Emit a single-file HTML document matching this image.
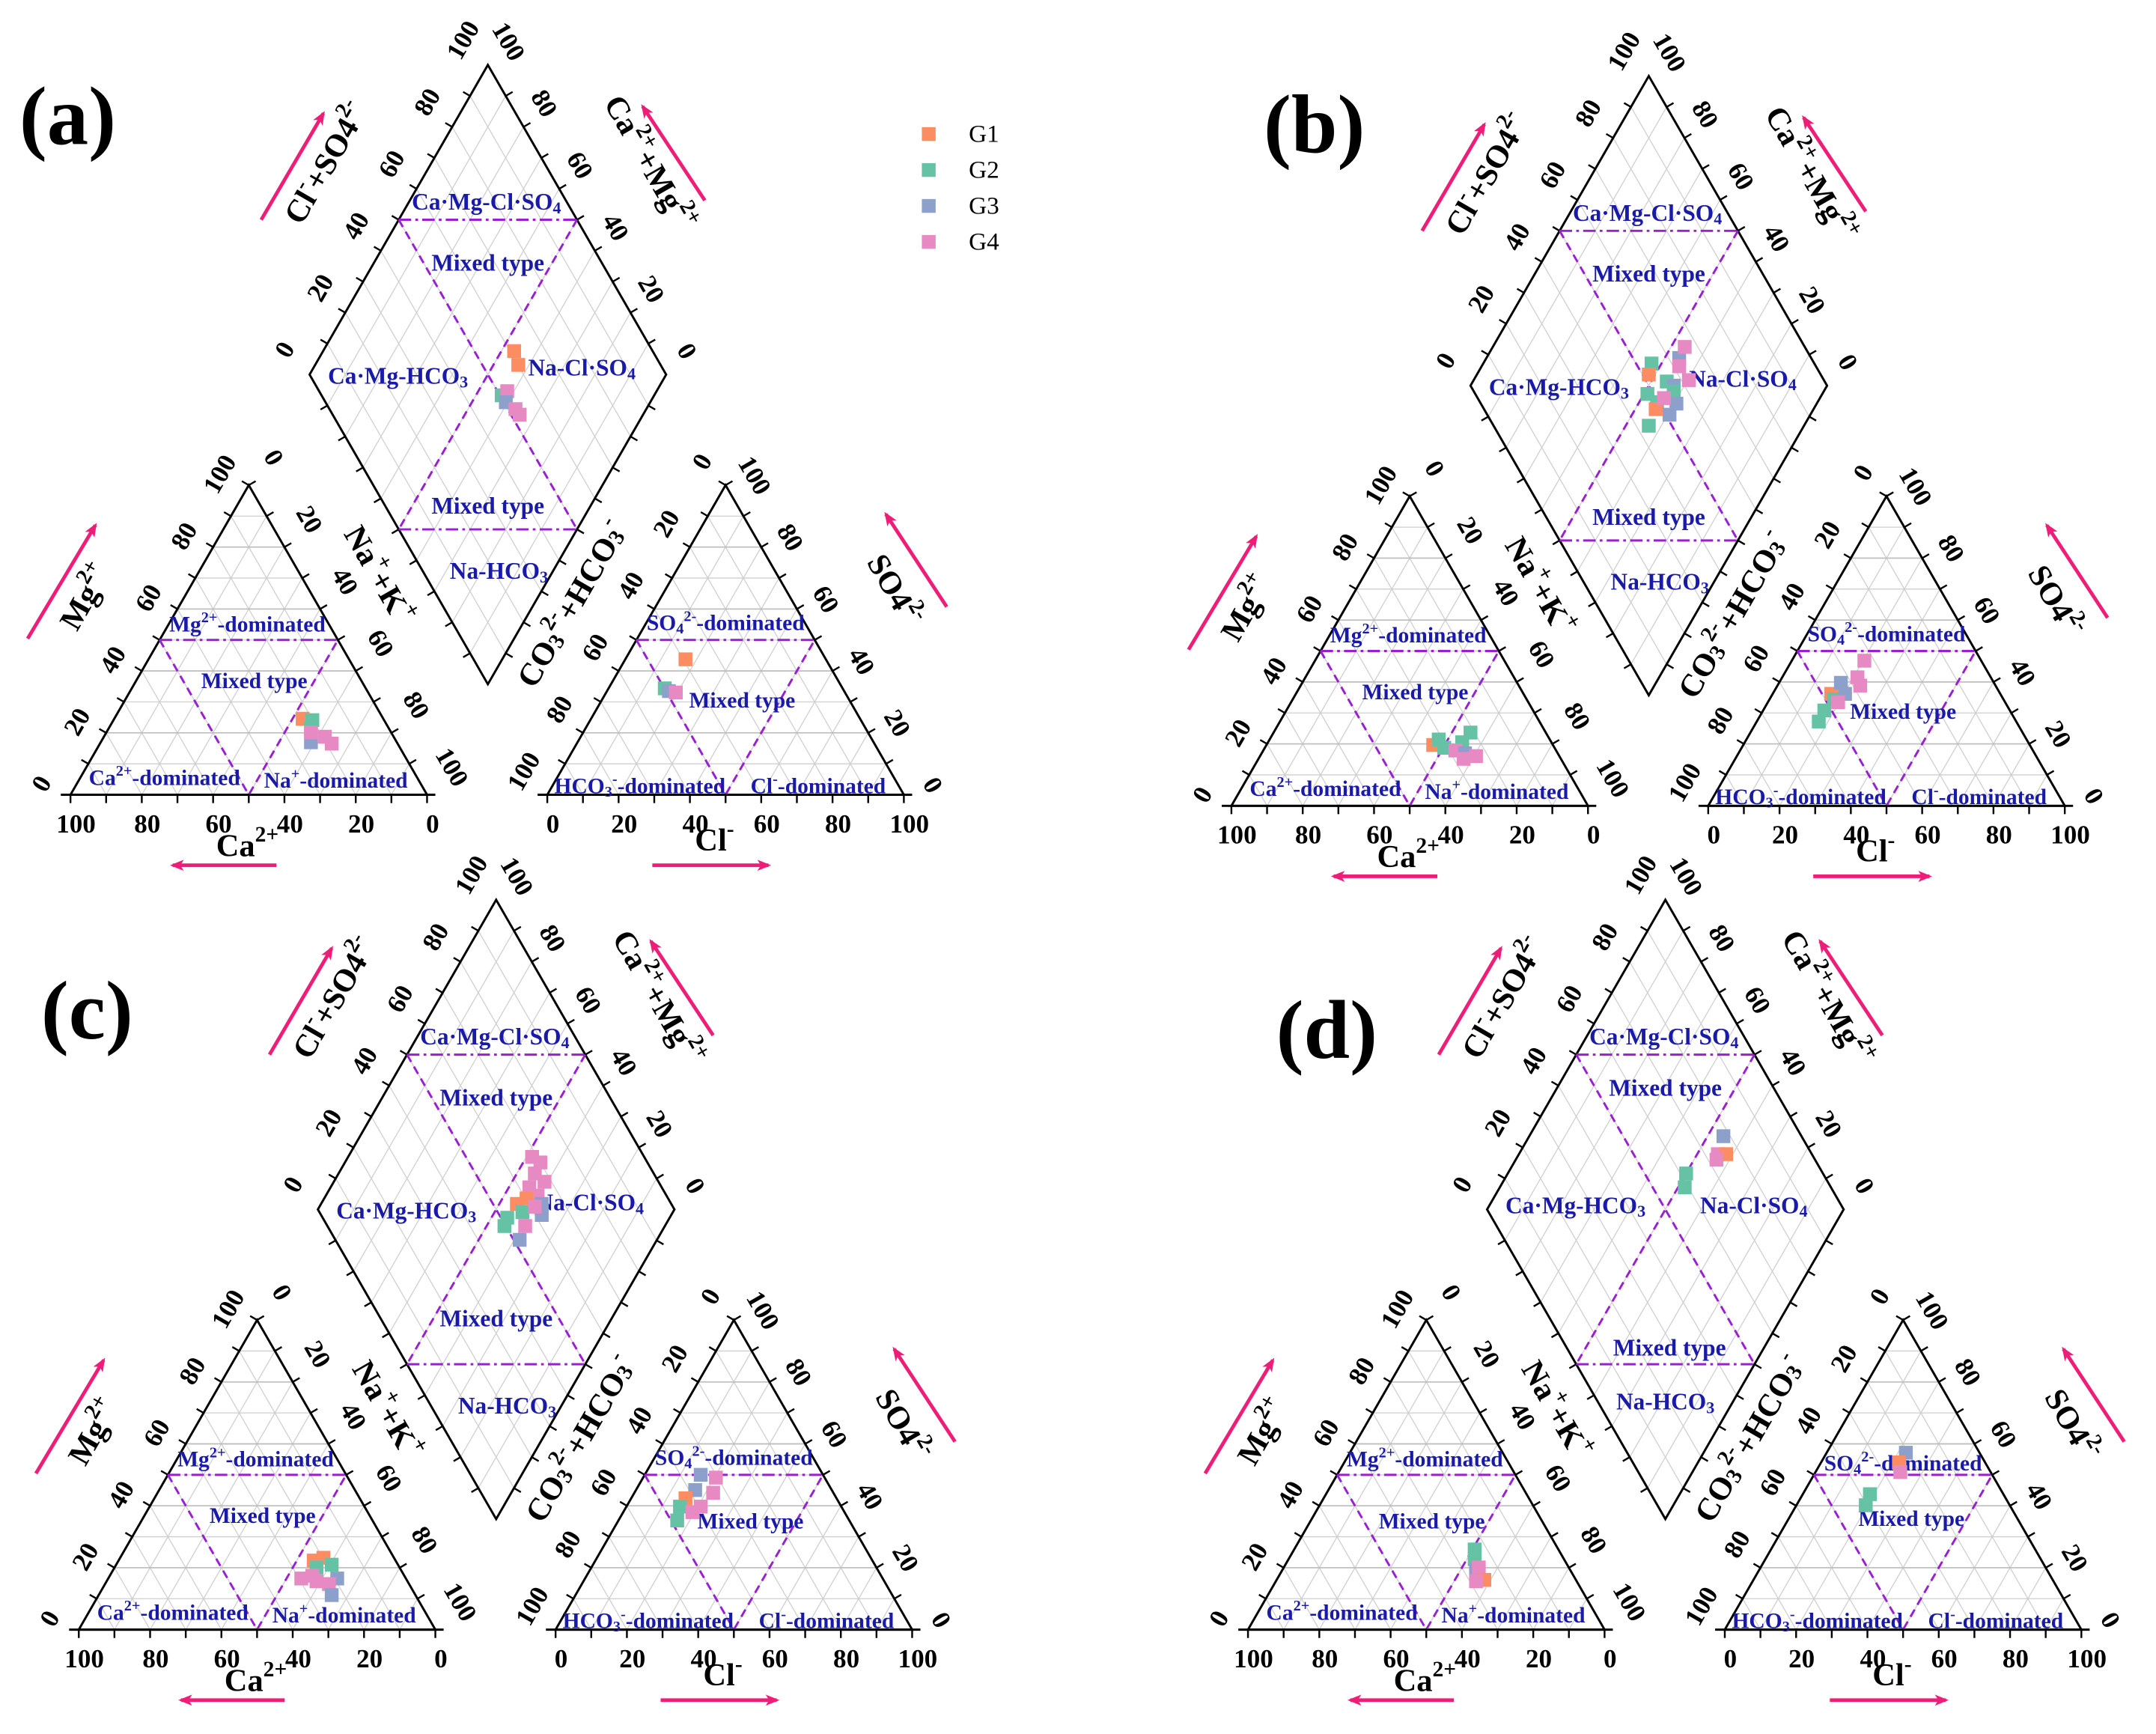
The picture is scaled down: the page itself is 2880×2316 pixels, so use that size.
<!DOCTYPE html>
<html><head><meta charset="utf-8"><style>
html,body{margin:0;padding:0;background:#fff}
svg{display:block}
.t{font-family:"Liberation Serif",serif;font-weight:bold;font-size:19px;fill:#000;text-anchor:middle;dominant-baseline:central}
.r{font-family:"Liberation Serif",serif;font-weight:bold;font-size:16px;fill:#1a1aa8;text-anchor:middle;dominant-baseline:central}
.rd{font-size:17px}
.ti{font-family:"Liberation Serif",serif;font-weight:bold;font-size:23px;fill:#000;text-anchor:middle;dominant-baseline:central}
.lt{font-family:"Liberation Serif",serif;font-weight:bold;font-size:60px;fill:#000;text-anchor:middle;dominant-baseline:central}
.lg{font-family:"Liberation Serif",serif;font-size:18px;fill:#000;dominant-baseline:central}
.grid{stroke:#cfcfcf;stroke-width:0.7;fill:none}
.ol{stroke:#000;stroke-width:1.6;fill:none}
.tk{stroke:#000;stroke-width:1.3;fill:none}
.dd{stroke:#9a1fd0;stroke-width:1.6;fill:none;stroke-dasharray:9,3,2,3}
.ds{stroke:#9a1fd0;stroke-width:1.6;fill:none;stroke-dasharray:6,4}
.ar{stroke:#ee1e78;stroke-width:2.6;fill:none;marker-end:url(#ah)}
.g1{fill:#fc8d62}.g2{fill:#66c2a5}.g3{fill:#8da0cb}.g4{fill:#e78ac3}
</style></head><body>
<svg width="2880" height="2316" viewBox="0 0 1560 1254.5" xmlns="http://www.w3.org/2000/svg">
<defs>
<marker id="ah" markerWidth="10" markerHeight="8" refX="8" refY="4" orient="auto" markerUnits="userSpaceOnUse" viewBox="0 0 10 8"><path d="M0,0 L10,4 L0,8 L2.5,4 Z" fill="#ee1e78"/></marker>
<clipPath id="tc"><polygon points="0,0 258,0 129,-224"/></clipPath>
<clipPath id="dc"><polygon points="0,0 129,-224 258,0 129,224"/></clipPath>
<g id="tri">
<path class="grid" clip-path="url(#tc)" d="M12.9,-22.4H245.1M25.8,-44.8H232.2M38.7,-67.2H219.3M51.6,-89.6H206.4M64.5,-112H193.5M77.4,-134.4H180.6M90.3,-156.8H167.7M103.2,-179.2H154.8M116.1,-201.6H141.9
M25.8,0l129,-224M51.6,0l129,-224M77.4,0l129,-224M103.2,0l129,-224M129,0l129,-224M154.8,0l129,-224M180.6,0l129,-224M206.4,0l129,-224M232.2,0l129,-224
M25.8,0l-129,-224M51.6,0l-129,-224M77.4,0l-129,-224M103.2,0l-129,-224M129,0l-129,-224M154.8,0l-129,-224M180.6,0l-129,-224M206.4,0l-129,-224M232.2,0l-129,-224"/>
<path stroke="#bdbdbd" stroke-width="0.9" fill="none" d="M25.8,-44.8H232.2M51.6,-89.6H206.4M77.4,-134.4H180.6M103.2,-179.2H154.8"/>
<polygon class="ol" points="0,0 258,0 129,-224"/>
<path class="ol" d="M-7,0H264"/>
<path class="tk" d="M0,0v6M25.8,0v6M51.6,0v6M77.4,0v6M103.2,0v6M129,0v6M154.8,0v6M180.6,0v6M206.4,0v6M232.2,0v6M258,0v6
M12.9,-22.4l-5,-2.9M25.8,-44.8l-5,-2.9M38.7,-67.2l-5,-2.9M51.6,-89.6l-5,-2.9M64.5,-112l-5,-2.9M77.4,-134.4l-5,-2.9M90.3,-156.8l-5,-2.9M103.2,-179.2l-5,-2.9M116.1,-201.6l-5,-2.9M129,-224l-5,-2.9
M245.1,-22.4l5,-2.9M232.2,-44.8l5,-2.9M219.3,-67.2l5,-2.9M206.4,-89.6l5,-2.9M193.5,-112l5,-2.9M180.6,-134.4l5,-2.9M167.7,-156.8l5,-2.9M154.8,-179.2l5,-2.9M141.9,-201.6l5,-2.9M129,-224l5,-2.9"/>
<path class="dd" d="M64.5,-112H193.5"/>
<path class="ds" d="M64.5,-112L129,0L193.5,-112"/>
</g>
<g id="dia">
<path class="grid" clip-path="url(#dc)" d="M12.9,22.4l129,-224M25.8,44.8l129,-224M38.7,67.2l129,-224M51.6,89.6l129,-224M64.5,112l129,-224M77.4,134.4l129,-224M90.3,156.8l129,-224M103.2,179.2l129,-224M116.1,201.6l129,-224
M12.9,-22.4l129,224M25.8,-44.8l129,224M38.7,-67.2l129,224M51.6,-89.6l129,224M64.5,-112l129,224M77.4,-134.4l129,224M90.3,-156.8l129,224M103.2,-179.2l129,224M116.1,-201.6l129,224"/>
<polygon class="ol" points="0,0 129,-224 258,0 129,224"/>
<path class="tk" d="M12.9,-22.4l-5,-2.9M25.8,-44.8l-5,-2.9M38.7,-67.2l-5,-2.9M51.6,-89.6l-5,-2.9M64.5,-112l-5,-2.9M77.4,-134.4l-5,-2.9M90.3,-156.8l-5,-2.9M103.2,-179.2l-5,-2.9M116.1,-201.6l-5,-2.9
M141.9,-201.6l5,-2.9M154.8,-179.2l5,-2.9M167.7,-156.8l5,-2.9M180.6,-134.4l5,-2.9M193.5,-112l5,-2.9M206.4,-89.6l5,-2.9M219.3,-67.2l5,-2.9M232.2,-44.8l5,-2.9M245.1,-22.4l5,-2.9
M12.9,22.4l-5,2.9M25.8,44.8l-5,2.9M38.7,67.2l-5,2.9M51.6,89.6l-5,2.9M64.5,112l-5,2.9M77.4,134.4l-5,2.9M90.3,156.8l-5,2.9M103.2,179.2l-5,2.9M116.1,201.6l-5,2.9
M141.9,201.6l5,2.9M154.8,179.2l5,2.9M167.7,156.8l5,2.9M180.6,134.4l5,2.9M193.5,112l5,2.9M206.4,89.6l5,2.9M219.3,67.2l5,2.9M232.2,44.8l5,2.9M245.1,22.4l5,2.9"/>
<path class="dd" d="M64.5,-112H193.5M64.5,112H193.5"/>
<path class="ds" d="M64.5,-112L193.5,112M193.5,-112L64.5,112"/>
</g>
<g id="geo">
<use href="#tri" transform="translate(51,575)"/>
<use href="#tri" transform="translate(396,575)"/>
<use href="#dia" transform="translate(224,271)"/>
<path class="ar" d="M189,159L234,82"/>
<path class="ar" d="M510,145L465,77"/>
<path class="ar" d="M20,462L69,380"/>
<path class="ar" d="M685,439L641,372"/>
<path class="ar" d="M200,626L125,626"/>
<path class="ar" d="M472,626L556,626"/>
</g>
</defs>

<text class="lt" x="49" y="84">(a)</text>
<text class="lt" x="951" y="90">(b)</text>
<text class="lt" x="63" y="731">(c)</text>
<text class="lt" x="960" y="745">(d)</text>
<rect class="g1" x="667" y="92" width="10" height="10"/>
<rect class="g2" x="667" y="118" width="10" height="10"/>
<rect class="g3" x="667" y="144" width="10" height="10"/>
<rect class="g4" x="667" y="170" width="10" height="10"/>
<text class="lg" x="701" y="97">G1</text>
<text class="lg" x="701" y="123">G2</text>
<text class="lg" x="701" y="149">G3</text>
<text class="lg" x="701" y="175">G4</text>

<!-- PANEL A -->
<g transform="translate(0,0)">
<use href="#geo"/>
<g class="t">
<text x="55" y="596">100</text><text x="106.6" y="596">80</text><text x="158.2" y="596">60</text><text x="209.8" y="596">40</text><text x="261.4" y="596">20</text><text x="313" y="596">0</text>
<text x="400" y="596">0</text><text x="451.6" y="596">20</text><text x="503.2" y="596">40</text><text x="554.8" y="596">60</text><text x="606.4" y="596">80</text><text x="658" y="596">100</text>
<text transform="translate(30,567) rotate(-60)">0</text><text transform="translate(55.8,522.2) rotate(-60)">20</text><text transform="translate(81.6,477.4) rotate(-60)">40</text><text transform="translate(107.4,432.6) rotate(-60)">60</text><text transform="translate(133.2,387.8) rotate(-60)">80</text><text transform="translate(159,343) rotate(-60)">100</text>
<text transform="translate(198,331) rotate(60)">0</text><text transform="translate(223.8,375.8) rotate(60)">20</text><text transform="translate(249.6,420.6) rotate(60)">40</text><text transform="translate(275.4,465.4) rotate(60)">60</text><text transform="translate(301.2,510.2) rotate(60)">80</text><text transform="translate(327,555) rotate(60)">100</text>
<text transform="translate(508,334) rotate(-60)">0</text><text transform="translate(482.2,378.8) rotate(-60)">20</text><text transform="translate(456.4,423.6) rotate(-60)">40</text><text transform="translate(430.6,468.4) rotate(-60)">60</text><text transform="translate(404.8,513.2) rotate(-60)">80</text><text transform="translate(379,558) rotate(-60)">100</text>
<text transform="translate(675,568) rotate(60)">0</text><text transform="translate(649.2,523.2) rotate(60)">20</text><text transform="translate(623.4,478.4) rotate(60)">40</text><text transform="translate(597.6,433.6) rotate(60)">60</text><text transform="translate(571.8,388.8) rotate(60)">80</text><text transform="translate(546,344) rotate(60)">100</text>
<text transform="translate(206,253) rotate(-60)">0</text><text transform="translate(231.8,208.2) rotate(-60)">20</text><text transform="translate(257.6,163.4) rotate(-60)">40</text><text transform="translate(283.4,118.6) rotate(-60)">60</text><text transform="translate(309.2,73.8) rotate(-60)">80</text><text transform="translate(335,29) rotate(-60)">100</text>
<text transform="translate(368,30) rotate(60)">100</text><text transform="translate(393.8,74.8) rotate(60)">80</text><text transform="translate(419.6,119.6) rotate(60)">60</text><text transform="translate(445.4,164.4) rotate(60)">40</text><text transform="translate(471.2,209.2) rotate(60)">20</text><text transform="translate(497,254) rotate(60)">0</text>
</g>
<g class="r">
<text x="179" y="452">Mg<tspan font-size="11" dy="-5">2+</tspan><tspan dy="5">-dominated</tspan></text>
<text x="184" y="493">Mixed type</text>
<text x="119" y="563">Ca<tspan font-size="11" dy="-5">2+</tspan><tspan dy="5">-dominated</tspan></text>
<text x="243" y="565">Na<tspan font-size="11" dy="-5">+</tspan><tspan dy="5">-dominated</tspan></text>
<text x="525" y="451">SO<tspan font-size="11" dy="4">4</tspan><tspan font-size="11" dy="-9">2-</tspan><tspan dy="5">-dominated</tspan></text>
<text x="537" y="507">Mixed type</text>
<text x="463" y="569">HCO<tspan font-size="11" dy="4">3</tspan><tspan font-size="11" dy="-9">-</tspan><tspan dy="5">-dominated</tspan></text>
<text x="592" y="569">Cl<tspan font-size="11" dy="-5">-</tspan><tspan dy="5">-dominated</tspan></text>
<g class="rd">
<text x="352" y="146">Ca·Mg-Cl·SO<tspan font-size="12" dy="4">4</tspan></text>
<text x="353" y="190">Mixed type</text>
<text x="288" y="272">Ca·Mg-HCO<tspan font-size="12" dy="4">3</tspan></text>
<text x="421" y="266">Na-Cl·SO<tspan font-size="12" dy="4">4</tspan></text>
<text x="353" y="366">Mixed type</text>
<text x="361" y="413">Na-HCO<tspan font-size="12" dy="4">3</tspan></text>
</g></g>
<g class="ti">
<text transform="translate(236,118) rotate(-60)">Cl<tspan font-size="16" dy="-8">-</tspan><tspan dy="8">+SO4</tspan><tspan font-size="16" dy="-8">2-</tspan></text>
<text transform="translate(470,118) rotate(60)">Ca<tspan font-size="16" dy="-8">2+</tspan><tspan dy="8">+Mg</tspan><tspan font-size="16" dy="-8">2+</tspan></text>
<text transform="translate(62,432) rotate(-60)">Mg<tspan font-size="16" dy="-8">2+</tspan></text>
<text transform="translate(274,416) rotate(60)">Na<tspan font-size="16" dy="-8">+</tspan><tspan dy="8">+K</tspan><tspan font-size="16" dy="-8">+</tspan></text>
<text transform="translate(414,437) rotate(-60)">CO<tspan font-size="16" dy="4">3</tspan><tspan font-size="16" dy="-12">2-</tspan><tspan dy="8">+HCO</tspan><tspan font-size="16" dy="4">3</tspan><tspan font-size="16" dy="-12">-</tspan></text>
<text transform="translate(647,427) rotate(60)">SO4<tspan font-size="16" dy="-8">2-</tspan></text>
<text x="179" y="612">Ca<tspan font-size="16" dy="-8">2+</tspan></text>
<text x="517" y="608">Cl<tspan font-size="16" dy="-8">-</tspan></text>
</g>
<g>
<rect class="g1" x="367" y="249" width="10" height="10"/><rect class="g1" x="370" y="259" width="10" height="10"/>
<rect class="g2" x="358" y="281" width="10" height="10"/><rect class="g4" x="362" y="278" width="10" height="10"/><rect class="g3" x="361" y="286" width="10" height="10"/><rect class="g4" x="368" y="291" width="10" height="10"/><rect class="g4" x="371" y="295" width="10" height="10"/>
<rect class="g1" x="214" y="515" width="10" height="10"/><rect class="g2" x="221" y="516" width="10" height="10"/><rect class="g2" x="220" y="522" width="10" height="10"/><rect class="g3" x="220" y="532" width="10" height="10"/><rect class="g4" x="220" y="525" width="10" height="10"/><rect class="g4" x="230" y="528" width="10" height="10"/><rect class="g4" x="235" y="533" width="10" height="10"/>
<rect class="g1" x="491" y="472" width="10" height="10"/><rect class="g2" x="476" y="493" width="10" height="10"/><rect class="g3" x="479" y="495" width="10" height="10"/><rect class="g4" x="484" y="496" width="10" height="10"/>
</g>
</g>

<!-- PANEL B -->
<g transform="translate(840,8)">
<use href="#geo"/>
<g class="t">
<text x="55" y="596">100</text><text x="106.6" y="596">80</text><text x="158.2" y="596">60</text><text x="209.8" y="596">40</text><text x="261.4" y="596">20</text><text x="313" y="596">0</text>
<text x="400" y="596">0</text><text x="451.6" y="596">20</text><text x="503.2" y="596">40</text><text x="554.8" y="596">60</text><text x="606.4" y="596">80</text><text x="658" y="596">100</text>
<text transform="translate(30,567) rotate(-60)">0</text><text transform="translate(55.8,522.2) rotate(-60)">20</text><text transform="translate(81.6,477.4) rotate(-60)">40</text><text transform="translate(107.4,432.6) rotate(-60)">60</text><text transform="translate(133.2,387.8) rotate(-60)">80</text><text transform="translate(159,343) rotate(-60)">100</text>
<text transform="translate(198,331) rotate(60)">0</text><text transform="translate(223.8,375.8) rotate(60)">20</text><text transform="translate(249.6,420.6) rotate(60)">40</text><text transform="translate(275.4,465.4) rotate(60)">60</text><text transform="translate(301.2,510.2) rotate(60)">80</text><text transform="translate(327,555) rotate(60)">100</text>
<text transform="translate(508,334) rotate(-60)">0</text><text transform="translate(482.2,378.8) rotate(-60)">20</text><text transform="translate(456.4,423.6) rotate(-60)">40</text><text transform="translate(430.6,468.4) rotate(-60)">60</text><text transform="translate(404.8,513.2) rotate(-60)">80</text><text transform="translate(379,558) rotate(-60)">100</text>
<text transform="translate(675,568) rotate(60)">0</text><text transform="translate(649.2,523.2) rotate(60)">20</text><text transform="translate(623.4,478.4) rotate(60)">40</text><text transform="translate(597.6,433.6) rotate(60)">60</text><text transform="translate(571.8,388.8) rotate(60)">80</text><text transform="translate(546,344) rotate(60)">100</text>
<text transform="translate(206,253) rotate(-60)">0</text><text transform="translate(231.8,208.2) rotate(-60)">20</text><text transform="translate(257.6,163.4) rotate(-60)">40</text><text transform="translate(283.4,118.6) rotate(-60)">60</text><text transform="translate(309.2,73.8) rotate(-60)">80</text><text transform="translate(335,29) rotate(-60)">100</text>
<text transform="translate(368,30) rotate(60)">100</text><text transform="translate(393.8,74.8) rotate(60)">80</text><text transform="translate(419.6,119.6) rotate(60)">60</text><text transform="translate(445.4,164.4) rotate(60)">40</text><text transform="translate(471.2,209.2) rotate(60)">20</text><text transform="translate(497,254) rotate(60)">0</text>
</g>
<g class="r">
<text x="179" y="452">Mg<tspan font-size="11" dy="-5">2+</tspan><tspan dy="5">-dominated</tspan></text>
<text x="184" y="493">Mixed type</text>
<text x="119" y="563">Ca<tspan font-size="11" dy="-5">2+</tspan><tspan dy="5">-dominated</tspan></text>
<text x="243" y="565">Na<tspan font-size="11" dy="-5">+</tspan><tspan dy="5">-dominated</tspan></text>
<text x="525" y="451">SO<tspan font-size="11" dy="4">4</tspan><tspan font-size="11" dy="-9">2-</tspan><tspan dy="5">-dominated</tspan></text>
<text x="537" y="507">Mixed type</text>
<text x="463" y="569">HCO<tspan font-size="11" dy="4">3</tspan><tspan font-size="11" dy="-9">-</tspan><tspan dy="5">-dominated</tspan></text>
<text x="592" y="569">Cl<tspan font-size="11" dy="-5">-</tspan><tspan dy="5">-dominated</tspan></text>
<g class="rd">
<text x="352" y="146">Ca·Mg-Cl·SO<tspan font-size="12" dy="4">4</tspan></text>
<text x="353" y="190">Mixed type</text>
<text x="288" y="272">Ca·Mg-HCO<tspan font-size="12" dy="4">3</tspan></text>
<text x="421" y="266">Na-Cl·SO<tspan font-size="12" dy="4">4</tspan></text>
<text x="353" y="366">Mixed type</text>
<text x="361" y="413">Na-HCO<tspan font-size="12" dy="4">3</tspan></text>
</g></g>
<g class="ti">
<text transform="translate(236,118) rotate(-60)">Cl<tspan font-size="16" dy="-8">-</tspan><tspan dy="8">+SO4</tspan><tspan font-size="16" dy="-8">2-</tspan></text>
<text transform="translate(470,118) rotate(60)">Ca<tspan font-size="16" dy="-8">2+</tspan><tspan dy="8">+Mg</tspan><tspan font-size="16" dy="-8">2+</tspan></text>
<text transform="translate(62,432) rotate(-60)">Mg<tspan font-size="16" dy="-8">2+</tspan></text>
<text transform="translate(274,416) rotate(60)">Na<tspan font-size="16" dy="-8">+</tspan><tspan dy="8">+K</tspan><tspan font-size="16" dy="-8">+</tspan></text>
<text transform="translate(414,437) rotate(-60)">CO<tspan font-size="16" dy="4">3</tspan><tspan font-size="16" dy="-12">2-</tspan><tspan dy="8">+HCO</tspan><tspan font-size="16" dy="4">3</tspan><tspan font-size="16" dy="-12">-</tspan></text>
<text transform="translate(647,427) rotate(60)">SO4<tspan font-size="16" dy="-8">2-</tspan></text>
<text x="179" y="612">Ca<tspan font-size="16" dy="-8">2+</tspan></text>
<text x="517" y="608">Cl<tspan font-size="16" dy="-8">-</tspan></text>
</g>
<g>
<rect class="g2" x="350" y="250" width="10" height="10"/><rect class="g1" x="348" y="258" width="10" height="10"/><rect class="g2" x="361" y="263" width="10" height="10"/><rect class="g3" x="366" y="266" width="10" height="10"/><rect class="g2" x="366" y="270" width="10" height="10"/><rect class="g3" x="368" y="279" width="10" height="10"/><rect class="g2" x="347" y="272" width="10" height="10"/><rect class="g2" x="354" y="278" width="10" height="10"/><rect class="g1" x="353" y="283" width="10" height="10"/><rect class="g4" x="359" y="275" width="10" height="10"/><rect class="g3" x="363" y="287" width="10" height="10"/><rect class="g2" x="348" y="295" width="10" height="10"/>
<rect class="g3" x="370" y="246" width="10" height="10"/><rect class="g4" x="374" y="238" width="10" height="10"/><rect class="g4" x="370" y="252" width="10" height="10"/><rect class="g4" x="377" y="262" width="10" height="10"/>
<rect class="g1" x="192" y="526" width="10" height="10"/><rect class="g2" x="196" y="522" width="10" height="10"/><rect class="g2" x="200" y="528" width="10" height="10"/><rect class="g2" x="219" y="517" width="10" height="10"/><rect class="g2" x="213" y="524" width="10" height="10"/><rect class="g4" x="208" y="530" width="10" height="10"/><rect class="g3" x="215" y="532" width="10" height="10"/><rect class="g4" x="223" y="534" width="10" height="10"/><rect class="g4" x="214" y="536" width="10" height="10"/>
<rect class="g2" x="471" y="509" width="10" height="10"/><rect class="g2" x="475" y="501" width="10" height="10"/><rect class="g1" x="480" y="489" width="10" height="10"/><rect class="g2" x="482" y="493" width="10" height="10"/><rect class="g3" x="487" y="481" width="10" height="10"/><rect class="g3" x="490" y="489" width="10" height="10"/><rect class="g4" x="485" y="495" width="10" height="10"/><rect class="g4" x="499" y="477" width="10" height="10"/><rect class="g4" x="501" y="483" width="10" height="10"/><rect class="g4" x="504" y="465" width="10" height="10"/>
</g>
</g>

<!-- PANEL C -->
<g transform="translate(6,604)">
<use href="#geo"/>
<g class="t">
<text x="55" y="596">100</text><text x="106.6" y="596">80</text><text x="158.2" y="596">60</text><text x="209.8" y="596">40</text><text x="261.4" y="596">20</text><text x="313" y="596">0</text>
<text x="400" y="596">0</text><text x="451.6" y="596">20</text><text x="503.2" y="596">40</text><text x="554.8" y="596">60</text><text x="606.4" y="596">80</text><text x="658" y="596">100</text>
<text transform="translate(30,567) rotate(-60)">0</text><text transform="translate(55.8,522.2) rotate(-60)">20</text><text transform="translate(81.6,477.4) rotate(-60)">40</text><text transform="translate(107.4,432.6) rotate(-60)">60</text><text transform="translate(133.2,387.8) rotate(-60)">80</text><text transform="translate(159,343) rotate(-60)">100</text>
<text transform="translate(198,331) rotate(60)">0</text><text transform="translate(223.8,375.8) rotate(60)">20</text><text transform="translate(249.6,420.6) rotate(60)">40</text><text transform="translate(275.4,465.4) rotate(60)">60</text><text transform="translate(301.2,510.2) rotate(60)">80</text><text transform="translate(327,555) rotate(60)">100</text>
<text transform="translate(508,334) rotate(-60)">0</text><text transform="translate(482.2,378.8) rotate(-60)">20</text><text transform="translate(456.4,423.6) rotate(-60)">40</text><text transform="translate(430.6,468.4) rotate(-60)">60</text><text transform="translate(404.8,513.2) rotate(-60)">80</text><text transform="translate(379,558) rotate(-60)">100</text>
<text transform="translate(675,568) rotate(60)">0</text><text transform="translate(649.2,523.2) rotate(60)">20</text><text transform="translate(623.4,478.4) rotate(60)">40</text><text transform="translate(597.6,433.6) rotate(60)">60</text><text transform="translate(571.8,388.8) rotate(60)">80</text><text transform="translate(546,344) rotate(60)">100</text>
<text transform="translate(206,253) rotate(-60)">0</text><text transform="translate(231.8,208.2) rotate(-60)">20</text><text transform="translate(257.6,163.4) rotate(-60)">40</text><text transform="translate(283.4,118.6) rotate(-60)">60</text><text transform="translate(309.2,73.8) rotate(-60)">80</text><text transform="translate(335,29) rotate(-60)">100</text>
<text transform="translate(368,30) rotate(60)">100</text><text transform="translate(393.8,74.8) rotate(60)">80</text><text transform="translate(419.6,119.6) rotate(60)">60</text><text transform="translate(445.4,164.4) rotate(60)">40</text><text transform="translate(471.2,209.2) rotate(60)">20</text><text transform="translate(497,254) rotate(60)">0</text>
</g>
<g class="r">
<text x="179" y="452">Mg<tspan font-size="11" dy="-5">2+</tspan><tspan dy="5">-dominated</tspan></text>
<text x="184" y="493">Mixed type</text>
<text x="119" y="563">Ca<tspan font-size="11" dy="-5">2+</tspan><tspan dy="5">-dominated</tspan></text>
<text x="243" y="565">Na<tspan font-size="11" dy="-5">+</tspan><tspan dy="5">-dominated</tspan></text>
<text x="525" y="451">SO<tspan font-size="11" dy="4">4</tspan><tspan font-size="11" dy="-9">2-</tspan><tspan dy="5">-dominated</tspan></text>
<text x="537" y="497">Mixed type</text>
<text x="463" y="569">HCO<tspan font-size="11" dy="4">3</tspan><tspan font-size="11" dy="-9">-</tspan><tspan dy="5">-dominated</tspan></text>
<text x="592" y="569">Cl<tspan font-size="11" dy="-5">-</tspan><tspan dy="5">-dominated</tspan></text>
<g class="rd">
<text x="352" y="146">Ca·Mg-Cl·SO<tspan font-size="12" dy="4">4</tspan></text>
<text x="353" y="190">Mixed type</text>
<text x="288" y="272">Ca·Mg-HCO<tspan font-size="12" dy="4">3</tspan></text>
<text x="421" y="266">Na-Cl·SO<tspan font-size="12" dy="4">4</tspan></text>
<text x="353" y="350">Mixed type</text>
<text x="361" y="413">Na-HCO<tspan font-size="12" dy="4">3</tspan></text>
</g></g>
<g class="ti">
<text transform="translate(236,118) rotate(-60)">Cl<tspan font-size="16" dy="-8">-</tspan><tspan dy="8">+SO4</tspan><tspan font-size="16" dy="-8">2-</tspan></text>
<text transform="translate(470,118) rotate(60)">Ca<tspan font-size="16" dy="-8">2+</tspan><tspan dy="8">+Mg</tspan><tspan font-size="16" dy="-8">2+</tspan></text>
<text transform="translate(62,432) rotate(-60)">Mg<tspan font-size="16" dy="-8">2+</tspan></text>
<text transform="translate(274,416) rotate(60)">Na<tspan font-size="16" dy="-8">+</tspan><tspan dy="8">+K</tspan><tspan font-size="16" dy="-8">+</tspan></text>
<text transform="translate(414,437) rotate(-60)">CO<tspan font-size="16" dy="4">3</tspan><tspan font-size="16" dy="-12">2-</tspan><tspan dy="8">+HCO</tspan><tspan font-size="16" dy="4">3</tspan><tspan font-size="16" dy="-12">-</tspan></text>
<text transform="translate(647,427) rotate(60)">SO4<tspan font-size="16" dy="-8">2-</tspan></text>
<text x="179" y="612">Ca<tspan font-size="16" dy="-8">2+</tspan></text>
<text x="517" y="608">Cl<tspan font-size="16" dy="-8">-</tspan></text>
</g>
<g>
<rect class="g4" x="374" y="228" width="10" height="10"/><rect class="g4" x="380" y="232" width="10" height="10"/><rect class="g4" x="376" y="240" width="10" height="10"/><rect class="g4" x="383" y="246" width="10" height="10"/><rect class="g4" x="372" y="250" width="10" height="10"/><rect class="g4" x="378" y="256" width="10" height="10"/>
<rect class="g3" x="381" y="262" width="10" height="10"/><rect class="g3" x="381" y="270" width="10" height="10"/><rect class="g1" x="363" y="262" width="10" height="10"/><rect class="g1" x="370" y="258" width="10" height="10"/><rect class="g2" x="356" y="272" width="10" height="10"/><rect class="g2" x="367" y="268" width="10" height="10"/><rect class="g4" x="376" y="264" width="10" height="10"/><rect class="g2" x="354" y="278" width="10" height="10"/><rect class="g4" x="369" y="278" width="10" height="10"/><rect class="g3" x="365" y="288" width="10" height="10"/>
<rect class="g1" x="223" y="518" width="10" height="10"/><rect class="g1" x="216" y="520" width="10" height="10"/><rect class="g2" x="229" y="523" width="10" height="10"/><rect class="g2" x="218" y="525" width="10" height="10"/><rect class="g4" x="207" y="533" width="10" height="10"/><rect class="g4" x="215" y="531" width="10" height="10"/><rect class="g4" x="218" y="535" width="10" height="10"/><rect class="g3" x="233" y="533" width="10" height="10"/><rect class="g4" x="227" y="537" width="10" height="10"/><rect class="g3" x="229" y="545" width="10" height="10"/>
<rect class="g3" x="496" y="458" width="10" height="10"/><rect class="g4" x="507" y="460" width="10" height="10"/><rect class="g4" x="505" y="471" width="10" height="10"/><rect class="g3" x="492" y="469" width="10" height="10"/><rect class="g1" x="485" y="475" width="10" height="10"/><rect class="g2" x="481" y="481" width="10" height="10"/><rect class="g4" x="496" y="481" width="10" height="10"/><rect class="g4" x="490" y="485" width="10" height="10"/><rect class="g2" x="479" y="491" width="10" height="10"/>
</g>
</g>

<!-- PANEL D -->
<g transform="translate(852,604)">
<use href="#geo"/>
<g class="t">
<text x="55" y="596">100</text><text x="106.6" y="596">80</text><text x="158.2" y="596">60</text><text x="209.8" y="596">40</text><text x="261.4" y="596">20</text><text x="313" y="596">0</text>
<text x="400" y="596">0</text><text x="451.6" y="596">20</text><text x="503.2" y="596">40</text><text x="554.8" y="596">60</text><text x="606.4" y="596">80</text><text x="658" y="596">100</text>
<text transform="translate(30,567) rotate(-60)">0</text><text transform="translate(55.8,522.2) rotate(-60)">20</text><text transform="translate(81.6,477.4) rotate(-60)">40</text><text transform="translate(107.4,432.6) rotate(-60)">60</text><text transform="translate(133.2,387.8) rotate(-60)">80</text><text transform="translate(159,343) rotate(-60)">100</text>
<text transform="translate(198,331) rotate(60)">0</text><text transform="translate(223.8,375.8) rotate(60)">20</text><text transform="translate(249.6,420.6) rotate(60)">40</text><text transform="translate(275.4,465.4) rotate(60)">60</text><text transform="translate(301.2,510.2) rotate(60)">80</text><text transform="translate(327,555) rotate(60)">100</text>
<text transform="translate(508,334) rotate(-60)">0</text><text transform="translate(482.2,378.8) rotate(-60)">20</text><text transform="translate(456.4,423.6) rotate(-60)">40</text><text transform="translate(430.6,468.4) rotate(-60)">60</text><text transform="translate(404.8,513.2) rotate(-60)">80</text><text transform="translate(379,558) rotate(-60)">100</text>
<text transform="translate(675,568) rotate(60)">0</text><text transform="translate(649.2,523.2) rotate(60)">20</text><text transform="translate(623.4,478.4) rotate(60)">40</text><text transform="translate(597.6,433.6) rotate(60)">60</text><text transform="translate(571.8,388.8) rotate(60)">80</text><text transform="translate(546,344) rotate(60)">100</text>
<text transform="translate(206,253) rotate(-60)">0</text><text transform="translate(231.8,208.2) rotate(-60)">20</text><text transform="translate(257.6,163.4) rotate(-60)">40</text><text transform="translate(283.4,118.6) rotate(-60)">60</text><text transform="translate(309.2,73.8) rotate(-60)">80</text><text transform="translate(335,29) rotate(-60)">100</text>
<text transform="translate(368,30) rotate(60)">100</text><text transform="translate(393.8,74.8) rotate(60)">80</text><text transform="translate(419.6,119.6) rotate(60)">60</text><text transform="translate(445.4,164.4) rotate(60)">40</text><text transform="translate(471.2,209.2) rotate(60)">20</text><text transform="translate(497,254) rotate(60)">0</text>
</g>
<g class="r">
<text x="179" y="452">Mg<tspan font-size="11" dy="-5">2+</tspan><tspan dy="5">-dominated</tspan></text>
<text x="184" y="497">Mixed type</text>
<text x="119" y="563">Ca<tspan font-size="11" dy="-5">2+</tspan><tspan dy="5">-dominated</tspan></text>
<text x="243" y="565">Na<tspan font-size="11" dy="-5">+</tspan><tspan dy="5">-dominated</tspan></text>
<text x="525" y="455">SO<tspan font-size="11" dy="4">4</tspan><tspan font-size="11" dy="-9">2-</tspan><tspan dy="5">-dominated</tspan></text>
<text x="531" y="495">Mixed type</text>
<text x="463" y="569">HCO<tspan font-size="11" dy="4">3</tspan><tspan font-size="11" dy="-9">-</tspan><tspan dy="5">-dominated</tspan></text>
<text x="592" y="569">Cl<tspan font-size="11" dy="-5">-</tspan><tspan dy="5">-dominated</tspan></text>
<g class="rd">
<text x="352" y="146">Ca·Mg-Cl·SO<tspan font-size="12" dy="4">4</tspan></text>
<text x="353" y="183">Mixed type</text>
<text x="288" y="268">Ca·Mg-HCO<tspan font-size="12" dy="4">3</tspan></text>
<text x="417" y="268">Na-Cl·SO<tspan font-size="12" dy="4">4</tspan></text>
<text x="356" y="371">Mixed type</text>
<text x="353" y="410">Na-HCO<tspan font-size="12" dy="4">3</tspan></text>
</g></g>
<g class="ti">
<text transform="translate(236,118) rotate(-60)">Cl<tspan font-size="16" dy="-8">-</tspan><tspan dy="8">+SO4</tspan><tspan font-size="16" dy="-8">2-</tspan></text>
<text transform="translate(470,118) rotate(60)">Ca<tspan font-size="16" dy="-8">2+</tspan><tspan dy="8">+Mg</tspan><tspan font-size="16" dy="-8">2+</tspan></text>
<text transform="translate(62,432) rotate(-60)">Mg<tspan font-size="16" dy="-8">2+</tspan></text>
<text transform="translate(274,416) rotate(60)">Na<tspan font-size="16" dy="-8">+</tspan><tspan dy="8">+K</tspan><tspan font-size="16" dy="-8">+</tspan></text>
<text transform="translate(414,437) rotate(-60)">CO<tspan font-size="16" dy="4">3</tspan><tspan font-size="16" dy="-12">2-</tspan><tspan dy="8">+HCO</tspan><tspan font-size="16" dy="4">3</tspan><tspan font-size="16" dy="-12">-</tspan></text>
<text transform="translate(647,427) rotate(60)">SO4<tspan font-size="16" dy="-8">2-</tspan></text>
<text x="179" y="612">Ca<tspan font-size="16" dy="-8">2+</tspan></text>
<text x="517" y="608">Cl<tspan font-size="16" dy="-8">-</tspan></text>
</g>
<g>
<rect class="g3" x="390" y="213" width="10" height="10"/><rect class="g4" x="386" y="226" width="10" height="10"/><rect class="g1" x="392" y="226" width="10" height="10"/><rect class="g4" x="385" y="230" width="10" height="10"/>
<rect class="g2" x="363" y="240" width="10" height="10"/><rect class="g2" x="362" y="250" width="10" height="10"/>
<rect class="g2" x="210" y="512" width="10" height="10"/><rect class="g2" x="210" y="519" width="10" height="10"/><rect class="g3" x="211" y="527" width="10" height="10"/><rect class="g4" x="213" y="525" width="10" height="10"/><rect class="g1" x="217" y="534" width="10" height="10"/><rect class="g4" x="211" y="535" width="10" height="10"/>
<rect class="g3" x="522" y="442" width="10" height="10"/><rect class="g1" x="517" y="449" width="10" height="10"/><rect class="g4" x="518" y="456" width="10" height="10"/><rect class="g2" x="496" y="472" width="10" height="10"/><rect class="g2" x="493" y="480" width="10" height="10"/>
</g>
</g>
</svg>
</body></html>
